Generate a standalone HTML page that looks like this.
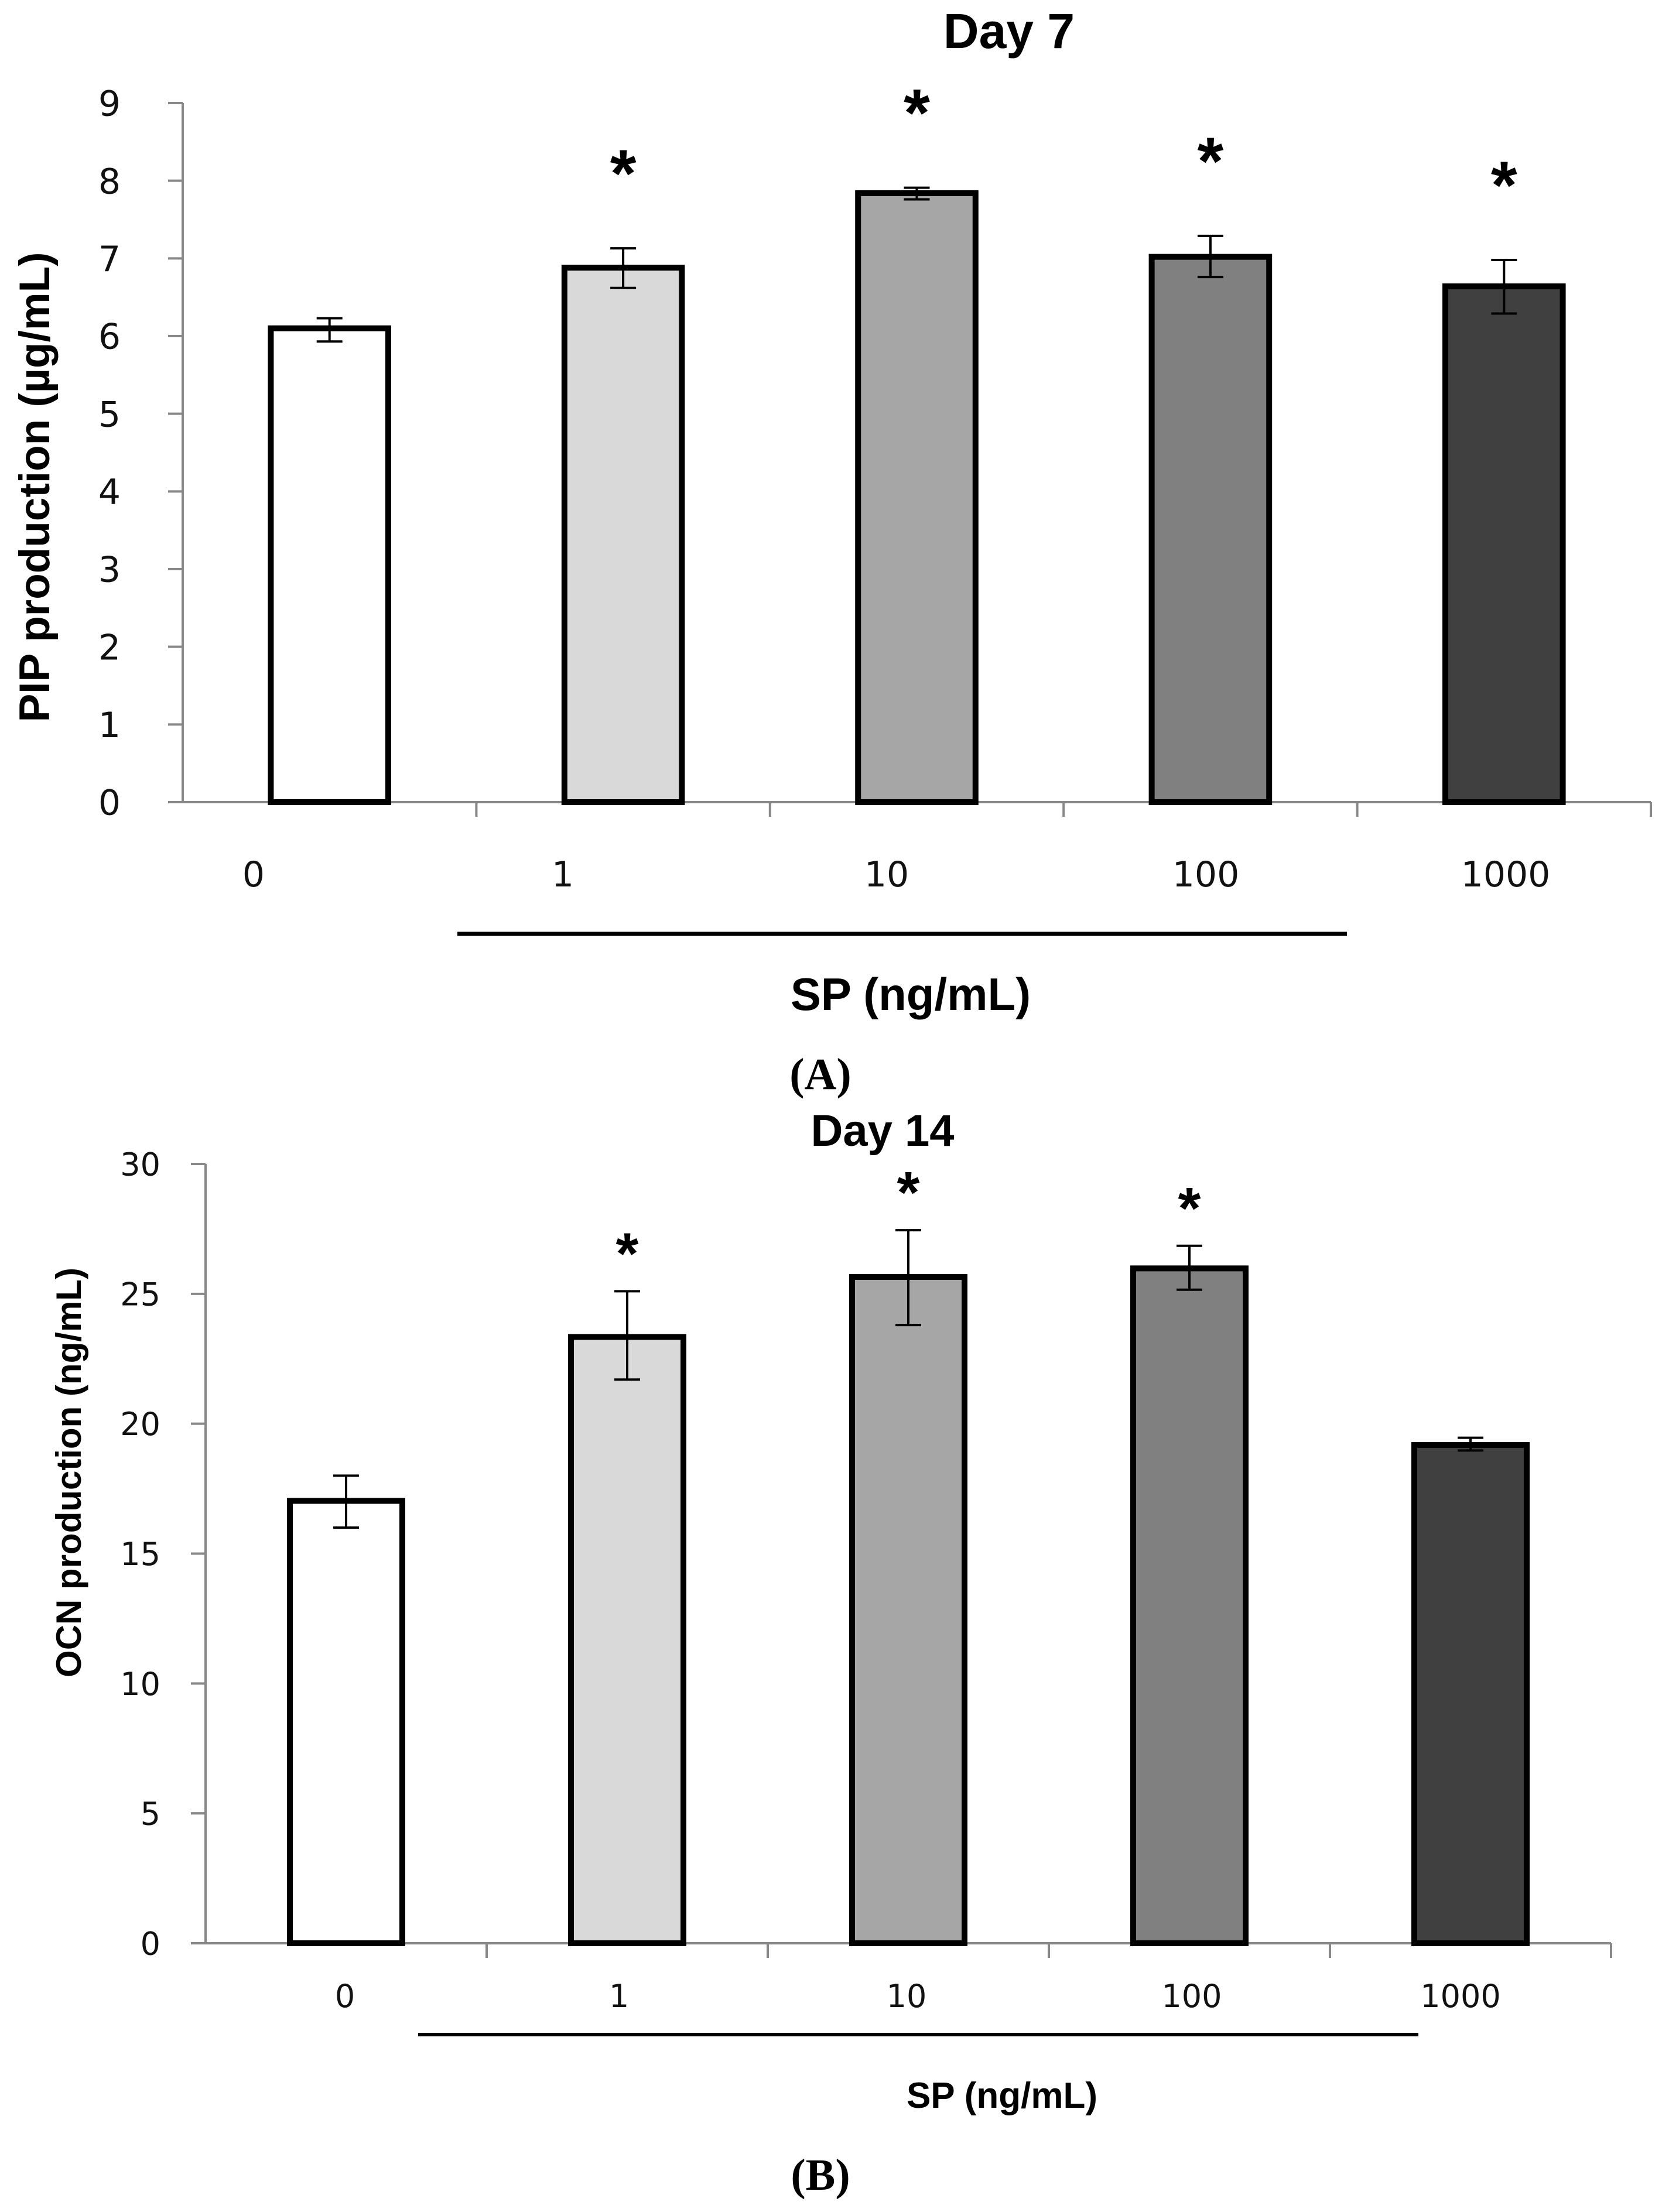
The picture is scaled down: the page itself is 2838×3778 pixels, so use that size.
<!DOCTYPE html>
<html><head><meta charset="utf-8"><style>
html,body{margin:0;padding:0;background:#fff;}
svg{display:block;font-family:"Liberation Sans",sans-serif;}
</style></head><body>
<svg id="chart" width="2838" height="3778" viewBox="0 0 2838 3778" xmlns="http://www.w3.org/2000/svg">
<g id="gA"></g>
<g id="gB"></g>
</svg>
<script>
const categories = ["0","1","10","100","1000"];
const fills = ["#ffffff","#d9d9d9","#a6a6a6","#808080","#404040"];
const valuesA = [6.10, 6.88, 7.84, 7.02, 6.64];
const errHiA = [6.23, 7.13, 7.91, 7.29, 6.98];
const errLoA = [5.93, 6.62, 7.76, 6.76, 6.29];
const sigA = [false, true, true, true, true];
const ticksA = [0,1,2,3,4,5,6,7,8,9];
const valuesB = [17.03, 23.34, 25.65, 25.98, 19.18];
const errHiB = [18.0, 25.1, 27.45, 26.85, 19.46];
const errLoB = [16.0, 21.7, 23.8, 25.16, 18.97];
const sigB = [false, true, true, true, false];
const ticksB = [0,5,10,15,20,25,30];

const NS="http://www.w3.org/2000/svg";
function mk(parent,tag,attrs,text){const e=document.createElementNS(NS,tag);for(const k in attrs)e.setAttribute(k,attrs[k]);if(text!==undefined)e.textContent=text;parent.appendChild(e);return e;}

function drawPanel(g,cfg){
  const y=v=>cfg.y0-(v-cfg.vmin)/(cfg.vmax-cfg.vmin)*(cfg.y0-cfg.yTop);
  const catW=(cfg.xR-cfg.xL)/categories.length;
  const cx=i=>cfg.xL+catW*(i+0.5);
  const tf='"DejaVu Sans",sans-serif';
  const ya=mk(g,'line',{x1:cfg.xL,y1:cfg.yTop,x2:cfg.xL,y2:cfg.y0,stroke:'#888','stroke-width':4});
  
  
  cfg.ticks.forEach(t=>{
    const ty=y(t);
    const tl=mk(g,'line',{x1:cfg.xL-25,y1:ty,x2:cfg.xL,y2:ty,stroke:'#888','stroke-width':4});
    
    
    const tt=mk(g,'text',{x:cfg.labR,y:ty+cfg.tickFs*0.36,'text-anchor':'end','font-size':cfg.tickFs,'font-family':tf,fill:'#111'},String(t));
    
    
  });
  categories.forEach((c,i)=>{
    const x=cfg.xL+catW*(i+1);
    const xt=mk(g,'line',{x1:x,y1:cfg.y0,x2:x,y2:cfg.y0+25,stroke:'#888','stroke-width':4});
    
    
  });
  const xa=mk(g,'line',{x1:cfg.xL,y1:cfg.y0,x2:cfg.xR,y2:cfg.y0,stroke:'#888','stroke-width':4});
  
  
  const bw=catW*cfg.barFrac;
  categories.forEach((c,i)=>{
    const v=cfg.values[i];
    const r=mk(g,'rect',{x:cx(i)-bw/2,y:y(v),width:bw,height:cfg.y0-y(v),fill:fills[i],stroke:'#000','stroke-width':10});
    
    
    const eg=mk(g,'g',{stroke:'#000','stroke-width':4});
    
    
    const hi=y(cfg.errHi[i]), lo=y(cfg.errLo[i]);
    mk(eg,'line',{x1:cx(i),y1:hi,x2:cx(i),y2:lo});
    mk(eg,'line',{x1:cx(i)-22,y1:hi,x2:cx(i)+22,y2:hi});
    mk(eg,'line',{x1:cx(i)-22,y1:lo,x2:cx(i)+22,y2:lo});
    if(cfg.sig[i]){
      const s=mk(g,'text',{x:cx(i),y:hi-cfg.starGap,'text-anchor':'middle','font-size':cfg.starFs,'font-weight':'bold',fill:'#000'},'*');
      
      
    }
    const lbl=mk(g,'text',{x:cfg.labX[i],y:cfg.labY,'text-anchor':'middle','font-size':cfg.tickFs,'font-family':tf,fill:'#111'},c);
    
    
  });
}

const gA=document.getElementById('gA');
drawPanel(gA,{values:valuesA,errHi:errHiA,errLo:errLoA,sig:sigA,ticks:ticksA,vmin:0,vmax:9,
  xL:312,xR:2819,yTop:176,y0:1370,labR:206,tickFs:60,barFrac:0.4,starFs:115,starGap:88,
  labX:[433,961,1514,2059,2571],labY:1514});
const gB=document.getElementById('gB');
drawPanel(gB,{values:valuesB,errHi:errHiB,errLo:errLoB,sig:sigB,ticks:ticksB,vmin:0,vmax:30,
  xL:351,xR:2751,yTop:1988,y0:3319,labR:274,tickFs:54,barFrac:0.4,starFs:100,starGap:30,
  labX:[589,1057,1548,2035,2494],labY:3428});
</script>
<div style="position:absolute;left:0;top:0;width:2838px;height:3778px;pointer-events:none">
<svg width="2838" height="3778" xmlns="http://www.w3.org/2000/svg" style="font-family:'Liberation Sans',sans-serif">
<text x="1723" y="82" text-anchor="middle" font-size="84" font-weight="bold">Day 7</text>
<text transform="translate(84,832) rotate(-90)" text-anchor="middle" font-size="73" font-weight="bold">PIP production (µg/mL)</text>
<line x1="781" y1="1595" x2="2300" y2="1595" stroke="#000" stroke-width="7"/>
<text x="1555" y="1725" text-anchor="middle" font-size="78" font-weight="bold">SP (ng/mL)</text>
<text x="1401" y="1860" text-anchor="middle" font-size="76" font-weight="bold" font-family="'Liberation Serif',serif">(A)</text>
<text x="1507" y="1957" text-anchor="middle" font-size="76" font-weight="bold">Day 14</text>
<text transform="translate(138,2515) rotate(-90)" text-anchor="middle" font-size="60" font-weight="bold">OCN production (ng/mL)</text>
<line x1="714" y1="3475" x2="2422" y2="3475" stroke="#000" stroke-width="6"/>
<text x="1711" y="3600" text-anchor="middle" font-size="62" font-weight="bold">SP (ng/mL)</text>
<text x="1401" y="3740" text-anchor="middle" font-size="76" font-weight="bold" font-family="'Liberation Serif',serif">(B)</text>
</svg>
</div>
</body></html>
